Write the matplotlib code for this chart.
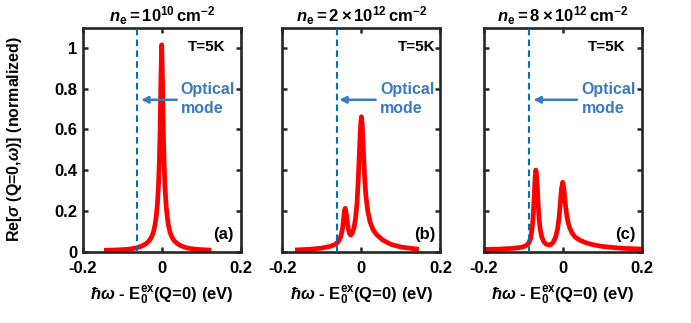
import matplotlib
matplotlib.use('Agg')
import matplotlib.pyplot as plt

# ---------------- data ----------------
energy_a = [-0.140, -0.110, -0.085, -0.065, -0.050, -0.040, -0.032, -0.026, -0.021,
            -0.017, -0.014, -0.011, -0.008, -0.006, -0.004, -0.002, 0.000, 0.002,
            0.004, 0.006, 0.008, 0.011, 0.014, 0.017, 0.021, 0.026, 0.032, 0.040,
            0.050, 0.065, 0.085, 0.120]
sigma_a = [0.006, 0.008, 0.011, 0.017, 0.027, 0.038, 0.052, 0.070, 0.095,
           0.130, 0.170, 0.230, 0.330, 0.440, 0.600, 0.850, 1.015, 0.850,
           0.600, 0.440, 0.330, 0.230, 0.170, 0.130, 0.095, 0.070, 0.052, 0.038,
           0.027, 0.017, 0.011, 0.007]

energy_b = [-0.162, -0.130, -0.100, -0.080, -0.066, -0.058, -0.052, -0.048, -0.045,
            -0.043, -0.041, -0.039, -0.036, -0.033, -0.030, -0.027, -0.023, -0.019,
            -0.015, -0.011, -0.008, -0.005, -0.002, 0.000, 0.002, 0.005, 0.008,
            0.011, 0.016, 0.022, 0.030, 0.040, 0.055, 0.075, 0.100, 0.140]
sigma_b = [0.008, 0.011, 0.017, 0.025, 0.035, 0.050, 0.075, 0.110, 0.160,
           0.200, 0.212, 0.195, 0.150, 0.110, 0.088, 0.080, 0.090, 0.115,
           0.160, 0.240, 0.350, 0.490, 0.620, 0.662, 0.625, 0.500, 0.370,
           0.280, 0.200, 0.145, 0.105, 0.080, 0.055, 0.035, 0.022, 0.012]

energy_c = [-0.200, -0.160, -0.130, -0.110, -0.100, -0.092, -0.086, -0.082, -0.079,
            -0.076, -0.074, -0.072, -0.070, -0.068, -0.066, -0.064, -0.062, -0.060,
            -0.057, -0.053, -0.048, -0.042, -0.036, -0.030, -0.024, -0.018, -0.013,
            -0.009, -0.006, -0.003, 0.000, 0.003, 0.006, 0.010, 0.014, 0.018, 0.024,
            0.032, 0.045, 0.060, 0.080, 0.100, 0.130, 0.160, 0.200]
sigma_c = [0.010, 0.012, 0.015, 0.019, 0.023, 0.030, 0.042, 0.060, 0.090,
           0.140, 0.200, 0.280, 0.360, 0.400, 0.375, 0.310, 0.230, 0.165,
           0.110, 0.072, 0.048, 0.036, 0.032, 0.034, 0.045, 0.070, 0.110,
           0.170, 0.240, 0.310, 0.340, 0.310, 0.245, 0.180, 0.140, 0.115, 0.090,
           0.070, 0.054, 0.042, 0.032, 0.025, 0.019, 0.015, 0.012]

optical_mode = [-0.063, -0.0615, -0.085]          # dashed-line positions
arrow_tail = [0.038, 0.036, 0.036]
arrow_tip = [-0.052, -0.056, -0.074]
titles = [r"$\mathbfit{n}_\mathrm{e}=10^{10}\,\mathrm{cm}^{-2}$",
          r"$\mathbfit{n}_\mathrm{e}=2\times10^{12}\,\mathrm{cm}^{-2}$",
          r"$\mathbfit{n}_\mathrm{e}=8\times10^{12}\,\mathrm{cm}^{-2}$"]
panel_labels = ["(a)", "(b)", "(c)"]
temp_x = [0.162, 0.188, 0.158]
label_x = [0.181, 0.188, 0.185]
xticks = [-0.2, 0, 0.2]
xticklabels = ["-0.2", "0", "0.2"]
yticks = [0, 0.2, 0.4, 0.6, 0.8, 1]
yticklabels = ["0", "0.2", "0.4", "0.6", "0.8", "1"]

# ---------------- style ----------------
plt.rcParams['font.family'] = ['Liberation Sans', 'DejaVu Sans']
plt.rcParams['font.weight'] = 'bold'
plt.rcParams['mathtext.fontset'] = 'custom'
plt.rcParams['mathtext.rm'] = 'Liberation Sans:bold'
plt.rcParams['mathtext.it'] = 'Liberation Sans:italic'
plt.rcParams['mathtext.bf'] = 'Liberation Sans:bold'
plt.rcParams['mathtext.bfit'] = 'Liberation Sans:bold:italic'
plt.rcParams['mathtext.sf'] = 'Liberation Sans:bold'

frame_col = '#262626'
dash_col = '#0072BD'
text_blue = '#3a7abf'

fig = plt.figure(figsize=(6.91, 3.23), dpi=100)
lefts = [82.7 / 691, 282.4 / 691, 483.7 / 691]
bottom = 1 - 251.5 / 323
height = (251.5 - 27.5) / 323
width = 158 / 691

data = [(energy_a, sigma_a), (energy_b, sigma_b), (energy_c, sigma_c)]
for i in range(3):
    ax = fig.add_axes([lefts[i], bottom, width, height])
    ex, sg = data[i]
    ax.plot(ex, sg, color='red', lw=3.4, solid_joinstyle='round', zorder=2)
    ax.axvline(optical_mode[i], color=dash_col, lw=1.5, dashes=(3.2, 2.0), zorder=3)
    ax.set_xlim(-0.2, 0.2)
    ax.set_ylim(0, 1.1)
    ax.set_xticks(xticks)
    ax.set_xticklabels(xticklabels)
    ax.set_yticks(yticks)
    if i == 0:
        ax.set_yticklabels(yticklabels)
    else:
        ax.set_yticklabels([])
    ax.tick_params(direction='in', top=True, right=True, length=3.5, width=1.8,
                   color=frame_col, labelsize=12)
    ax.tick_params(axis='x', pad=7)
    ax.tick_params(axis='y', pad=4)
    for lab in ax.get_xticklabels() + ax.get_yticklabels():
        lab.set_fontweight('bold')
    for sp in ax.spines.values():
        sp.set_linewidth(1.9)
        sp.set_color(frame_col)
    ax.set_title(titles[i], fontsize=12, pad=4)
    ax.set_xlabel(r"$\hbar\omega$ - E$_\mathrm{0}^\mathrm{ex}$(Q=0) (eV)",
                  fontsize=12, fontweight='bold', labelpad=6)
    ax.text(temp_x[i], 1.005, "T=5K", fontsize=11, fontweight='bold',
            ha='right', va='center', color='black')
    ax.text(label_x[i], 0.085, panel_labels[i], fontsize=12, fontweight='bold',
            ha='right', va='center', color='black')
    ax.text(0.048, 0.747, "Optical\nmode", fontsize=11.5, fontweight='bold',
            color=text_blue, ha='left', va='center', linespacing=1.35)
    ax.annotate('', xy=(arrow_tip[i], 0.745), xytext=(arrow_tail[i], 0.745),
                arrowprops=dict(arrowstyle='-|>', color=text_blue, lw=1.8,
                                mutation_scale=10, shrinkA=0, shrinkB=0))

fig.text(15 / 691, 1 - 139 / 323, r"Re[$\sigma$ (Q=0,$\omega$)] (normalized)",
         rotation=90, ha='center', va='center', fontsize=11.5, fontweight='bold')

fig.savefig('out.png', dpi=100)
